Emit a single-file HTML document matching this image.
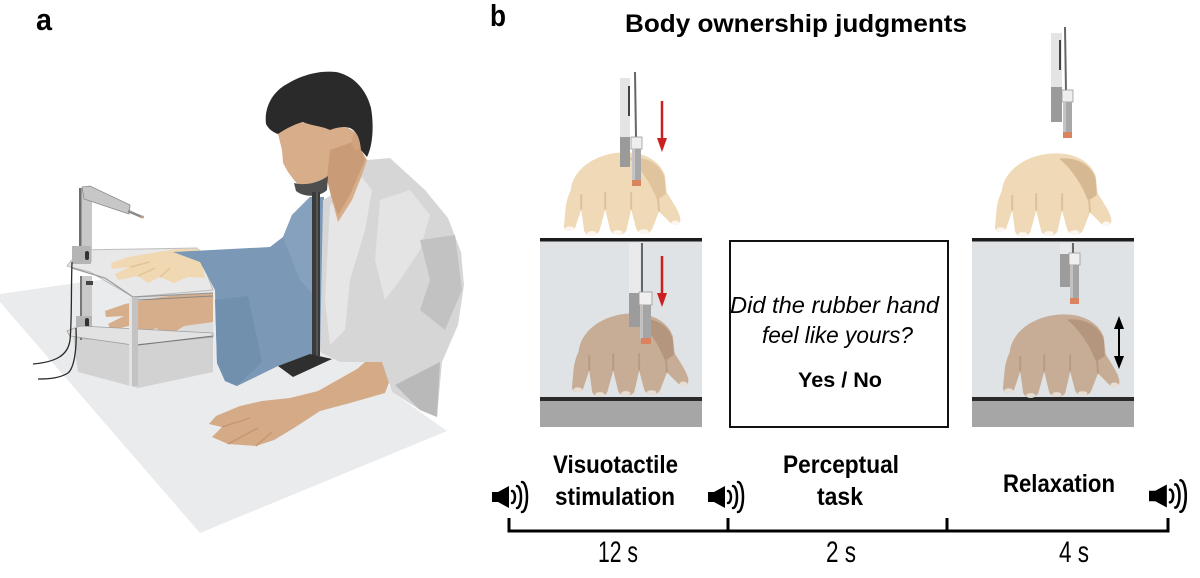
<!DOCTYPE html>
<html><head><meta charset="utf-8">
<style>
html,body{margin:0;padding:0;background:#fff;}
svg{display:block;}
text{font-family:"Liberation Sans",Arial,sans-serif;fill:#000;}
</style></head><body>
<svg width="1200" height="578" viewBox="0 0 1200 578" xmlns="http://www.w3.org/2000/svg">
<rect width="1200" height="578" fill="#fff"/>

<!-- ================= PANEL A ================= -->
<text x="36" y="30" font-size="31" font-weight="bold" textLength="16" lengthAdjust="spacingAndGlyphs">a</text>

<!-- table -->
<polygon points="0,294 90,281 330,262 392,392 447,431 200,533 0,302" fill="#e9ebec"/>

<!-- apparatus lower box side / underside -->
<polygon points="72,330 213,333 213,372 138,388 78,372" fill="#d2d2d2"/>
<polygon points="138,297 213,294 213,336 138,345" fill="#dcdcdc"/>

<!-- lower real hand (under glass) -->
<path d="M213,293 L180,294 L150,299 L125,304 L105,311 L106,317 L124,316 L108,324 L111,330 L134,325 L143,334 L156,328 L168,336 L184,326 L213,322 Z" fill="#d6ae8b"/>

<!-- upper shelf -->
<polygon points="67,266 80,250 197,248 213,290 133,297 90,272" fill="#e8e8e8" stroke="#bdbdbd" stroke-width="1"/>
<polyline points="72,268 105,278 133,297 213,293" fill="none" stroke="#9a9a9a" stroke-width="1.2"/>

<!-- upper rubber hand -->
<path d="M200,249 L176,249 L152,253 L128,257 L111,263 L112,269 L130,267 L115,274 L118,280 L138,276 L148,283 L160,277 L174,283 L188,277 L205,278 Z" fill="#f0d9b2"/>
<path d="M130,267 L150,262 M138,276 L155,268 M160,277 L170,268" stroke="#e2c49a" stroke-width="1.5" fill="none"/>

<!-- upper post & arm -->
<rect x="79" y="188" width="13" height="74" fill="#c9c9c9"/>
<rect x="79" y="188" width="2.5" height="74" fill="#6e6e6e"/>
<rect x="85" y="192" width="7" height="4" fill="#444"/>
<polygon points="82,187 90,186 130,205 129,214 84,199" fill="#c7c7c7" stroke="#8a8a8a" stroke-width="0.8"/>
<line x1="128" y1="211" x2="142" y2="217" stroke="#8a8a8a" stroke-width="2.5"/>
<circle cx="142.5" cy="217" r="1.5" fill="#c9a080"/>
<rect x="72" y="246" width="19" height="18" fill="#b5b5b5"/>
<rect x="85" y="251" width="4" height="9" rx="2" fill="#333"/>

<!-- lower post -->
<rect x="80" y="276" width="12" height="64" fill="#c9c9c9"/>
<rect x="80" y="276" width="2" height="64" fill="#777"/>
<rect x="86" y="281" width="7" height="4" fill="#444"/>
<rect x="76" y="316" width="16" height="15" fill="#b5b5b5"/>
<rect x="85" y="318" width="4" height="10" rx="2" fill="#333"/>

<!-- lower shelf -->
<polygon points="67,331 80,326 213,333 213,337 133,345 70,336" fill="#e2e2e2" stroke="#a0a0a0" stroke-width="0.8"/>
<!-- front post -->
<rect x="129" y="297" width="9" height="89" fill="#c3c3c3"/>
<rect x="129" y="297" width="3" height="89" fill="#e3e3e3"/>
<line x1="138" y1="345" x2="213" y2="336" stroke="#777" stroke-width="1"/>
<line x1="138" y1="300" x2="213" y2="296" stroke="#888" stroke-width="1"/>

<!-- cables -->
<path d="M72,262 C71,290 72,320 70,340 C68,356 55,362 33,364" stroke="#2a2a2a" stroke-width="1.3" fill="none"/>
<path d="M76,328 C77,350 74,368 68,373 C60,378 50,379 38,379" stroke="#2a2a2a" stroke-width="1.3" fill="none"/>

<!-- arm on table -->
<path d="M372,356 L357,369 L318,391 L290,398 L262,401 L240,406 L216,416 L209,424 L222,427 L212,437 L228,444 L256,446 L274,440 L294,428 L320,411 L350,403 L385,393 L393,372 L386,356 Z" fill="#d5aa86"/>
<path d="M222,427 L250,418 M228,444 L258,428 M256,446 L272,432" stroke="#c4966f" stroke-width="1.3" fill="none"/>

<!-- blue cape -->
<polygon points="173,252 270,247 283,237 292,215 310,197 324,197 326,350 300,358 278,366 237,386 225,381 217,363 215,290 200,262" fill="#7b98b6"/>
<polygon points="215,300 248,296 262,362 237,386 225,381 217,363" fill="#7190ae"/>
<polygon points="283,237 292,215 310,197 318,200 318,300 300,280" fill="#86a1bd"/>

<!-- shirt -->
<polygon points="323,200 340,190 367,160 390,158 425,190 448,218 461,252 464,285 458,325 442,362 437,417 420,410 392,392 382,362 340,362 320,352" fill="#d6d6d6"/>
<polygon points="330,205 345,195 360,175 372,190 365,230 350,280 345,330 330,345 325,300" fill="#e6e6e6"/>
<polygon points="380,200 410,190 430,215 420,250 400,280 385,300 375,260" fill="#e4e4e4"/>
<polygon points="420,240 455,235 462,290 445,330 420,310 430,280" fill="#c2c2c2"/>
<polygon points="395,385 440,362 437,417 420,410" fill="#b9b9b9"/>

<!-- face & neck -->
<polygon points="277,130 282,150 283,163 288,172 294,180 300,187 313,190 327,180 331,196 338,222 352,200 362,175 367,160 360,148 357,133 348,128 330,125 305,122 285,126" fill="#d8ae8a"/>
<polygon points="330,150 358,140 365,160 350,195 338,215 331,195 327,178" fill="#c99c77"/>
<ellipse cx="357" cy="141" rx="5" ry="9" fill="#d0a27e"/>

<!-- hair -->
<path d="M266,124 C264,108 272,92 287,84 C300,76 318,70 336,72 C352,75 366,88 371,108 C374,125 373,145 367,157 L361,150 C360,140 358,132 350,128 C342,126 336,128 330,130 C322,126 312,126 303,122 C295,124 287,128 278,134 C272,132 268,128 266,124 Z" fill="#2a2a2a"/>

<!-- chin rest -->
<path d="M294,183 C305,186 318,183 328,176 L327,190 C320,197 305,198 296,191 Z" fill="#4e4e4e"/>
<rect x="312" y="192" width="8" height="164" fill="#3a3a3a"/>
<rect x="316" y="192" width="2" height="164" fill="#555"/>
<polygon points="278,366 310,354 332,359 293,377" fill="#2f2f2f"/>

<!-- ================= PANEL B ================= -->
<text x="490" y="26" font-size="31" font-weight="bold" textLength="16" lengthAdjust="spacingAndGlyphs">b</text>
<text x="625" y="32" font-size="25" font-weight="bold" textLength="342" lengthAdjust="spacingAndGlyphs">Body ownership judgments</text>

<!-- left column box -->
<rect x="540" y="241" width="162" height="157" fill="#dfe3e6"/>
<rect x="540" y="238" width="162" height="3.5" fill="#1c1c1c"/>
<rect x="540" y="397" width="162" height="4" fill="#2a2a2a"/>
<rect x="540" y="401" width="162" height="26" fill="#a6a6a6"/>

<!-- right column box -->
<rect x="972" y="241" width="162" height="157" fill="#dfe3e6"/>
<rect x="972" y="238" width="162" height="3.5" fill="#1c1c1c"/>
<rect x="972" y="397" width="162" height="4" fill="#2a2a2a"/>
<rect x="972" y="401" width="162" height="26" fill="#a6a6a6"/>

<!-- center box -->
<rect x="730" y="241" width="218" height="186" fill="none" stroke="#111" stroke-width="2"/>
<text x="834.5" y="313" font-size="23.5" font-style="italic" text-anchor="middle" textLength="209" lengthAdjust="spacingAndGlyphs">Did the rubber hand</text>
<text x="837.5" y="343" font-size="23.5" font-style="italic" text-anchor="middle" textLength="151" lengthAdjust="spacingAndGlyphs">feel like yours?</text>
<text x="840" y="387" font-size="21.5" font-weight="bold" text-anchor="middle" textLength="84" lengthAdjust="spacingAndGlyphs">Yes / No</text>

<!-- hands: top-left (rubber) -->
<g transform="translate(563,150) scale(0.96)">
 <path d="M8,42 C10,22 30,6 56,3 C80,0 100,9 106,26 L108,44 C114,54 120,62 122,70 C124,78 116,80 111,75 L100,64 L93,82 C90,89 78,89 76,81 L71,62 L66,84 C63,90 51,90 49,83 L44,62 L38,84 C35,91 24,91 22,84 L19,62 L13,80 C11,86 1,86 1,79 L3,58 C4,52 6,46 8,42 Z" fill="#efd9b6"/>
 <path d="M68,8 C88,6 103,16 106,30 L107,46 L98,52 C92,36 82,20 68,8 Z" fill="#e0c49e"/>
 <path d="M19,46 L19,62 M44,44 L44,62 M71,44 L71,62 M99,50 L100,64" stroke="#dcc099" stroke-width="2" fill="none"/>
 <ellipse cx="7" cy="82" rx="4.5" ry="2.5" fill="#fbf6ef"/>
 <ellipse cx="30" cy="87" rx="5" ry="2.5" fill="#fbf6ef"/>
 <ellipse cx="57" cy="86" rx="5" ry="2.5" fill="#fbf6ef"/>
 <ellipse cx="84" cy="85" rx="5" ry="2.5" fill="#fbf6ef"/>
 <ellipse cx="117" cy="76" rx="4" ry="2.5" fill="#fbf6ef"/>
</g>
<!-- top-left probe -->
<rect x="620" y="78" width="10" height="59" fill="#e4e4e4"/>
<rect x="620" y="137" width="10" height="30" fill="#9a9a9a"/>
<rect x="628" y="86" width="2" height="30" fill="#444"/>
<line x1="635" y1="72" x2="636" y2="137" stroke="#666" stroke-width="2"/>
<rect x="631" y="137" width="11" height="12" fill="#eeeeee" stroke="#999" stroke-width="0.8"/>
<rect x="632" y="149" width="9" height="32" fill="#a8a8a8"/>
<rect x="632" y="149" width="3" height="32" fill="#c4c4c4"/>
<rect x="632" y="180" width="9" height="6" fill="#d9845e"/>
<line x1="662" y1="101" x2="662" y2="140" stroke="#cc2020" stroke-width="2.5"/>
<polygon points="657,138 667,138 662,152" fill="#cc2020"/>

<!-- lower-left (real) hand -->
<g transform="translate(571,311) scale(0.96)">
 <path d="M8,42 C10,22 30,6 56,3 C80,0 100,9 106,26 L108,44 C114,54 120,62 122,70 C124,78 116,80 111,75 L100,64 L93,82 C90,89 78,89 76,81 L71,62 L66,84 C63,90 51,90 49,83 L44,62 L38,84 C35,91 24,91 22,84 L19,62 L13,80 C11,86 1,86 1,79 L3,58 C4,52 6,46 8,42 Z" fill="#c8ad96"/>
 <path d="M68,8 C88,6 103,16 106,30 L107,46 L98,52 C92,36 82,20 68,8 Z" fill="#b3967d"/>
 <path d="M19,46 L19,62 M44,44 L44,62 M71,44 L71,62 M99,50 L100,64" stroke="#b69a82" stroke-width="2" fill="none"/>
 <ellipse cx="7" cy="82" rx="4.5" ry="2.5" fill="#e6ddd3"/>
 <ellipse cx="30" cy="87" rx="5" ry="2.5" fill="#e6ddd3"/>
 <ellipse cx="57" cy="86" rx="5" ry="2.5" fill="#e6ddd3"/>
 <ellipse cx="84" cy="85" rx="5" ry="2.5" fill="#e6ddd3"/>
 <ellipse cx="117" cy="76" rx="4" ry="2.5" fill="#e6ddd3"/>
</g>
<!-- lower-left probe -->
<rect x="629" y="243" width="11" height="50" fill="#eaeaea"/>
<rect x="629" y="293" width="11" height="34" fill="#9c9c9c"/>
<line x1="642" y1="243" x2="642" y2="293" stroke="#666" stroke-width="2"/>
<rect x="639" y="292" width="13" height="13" fill="#efefef" stroke="#999" stroke-width="0.8"/>
<rect x="640" y="305" width="11" height="34" fill="#a5a5a5"/>
<rect x="640" y="305" width="3" height="34" fill="#c2c2c2"/>
<rect x="641" y="338" width="10" height="6" fill="#d9845e"/>
<line x1="662" y1="256" x2="662" y2="295" stroke="#cc2020" stroke-width="2.5"/>
<polygon points="657,293 667,293 662,307" fill="#cc2020"/>

<!-- top-right (rubber) hand -->
<g transform="translate(994,151) scale(0.96)">
 <path d="M8,42 C10,22 30,6 56,3 C80,0 100,9 106,26 L108,44 C114,54 120,62 122,70 C124,78 116,80 111,75 L100,64 L93,82 C90,89 78,89 76,81 L71,62 L66,84 C63,90 51,90 49,83 L44,62 L38,84 C35,91 24,91 22,84 L19,62 L13,80 C11,86 1,86 1,79 L3,58 C4,52 6,46 8,42 Z" fill="#efd9b6"/>
 <path d="M68,8 C88,6 103,16 106,30 L107,46 L98,52 C92,36 82,20 68,8 Z" fill="#d6b993"/>
 <path d="M19,46 L19,62 M44,44 L44,62 M71,44 L71,62 M99,50 L100,64" stroke="#dcc099" stroke-width="2" fill="none"/>
 <ellipse cx="7" cy="82" rx="4.5" ry="2.5" fill="#fbf6ef"/>
 <ellipse cx="30" cy="87" rx="5" ry="2.5" fill="#fbf6ef"/>
 <ellipse cx="57" cy="86" rx="5" ry="2.5" fill="#fbf6ef"/>
 <ellipse cx="84" cy="85" rx="5" ry="2.5" fill="#fbf6ef"/>
 <ellipse cx="117" cy="76" rx="4" ry="2.5" fill="#fbf6ef"/>
</g>
<!-- top-right probe -->
<rect x="1051" y="33" width="11" height="54" fill="#e4e4e4"/>
<rect x="1051" y="87" width="11" height="35" fill="#9a9a9a"/>
<rect x="1059" y="40" width="2" height="30" fill="#444"/>
<line x1="1065" y1="27" x2="1066" y2="92" stroke="#666" stroke-width="2"/>
<rect x="1062" y="90" width="11" height="12" fill="#eeeeee" stroke="#999" stroke-width="0.8"/>
<rect x="1063" y="102" width="9" height="32" fill="#a8a8a8"/>
<rect x="1063" y="102" width="3" height="32" fill="#c4c4c4"/>
<rect x="1063" y="132" width="9" height="6" fill="#d9845e"/>

<!-- lower-right (real) hand -->
<g transform="translate(1002,312) scale(0.96)">
 <path d="M8,42 C10,22 30,6 56,3 C80,0 100,9 106,26 L108,44 C114,54 120,62 122,70 C124,78 116,80 111,75 L100,64 L93,82 C90,89 78,89 76,81 L71,62 L66,84 C63,90 51,90 49,83 L44,62 L38,84 C35,91 24,91 22,84 L19,62 L13,80 C11,86 1,86 1,79 L3,58 C4,52 6,46 8,42 Z" fill="#c8ad96"/>
 <path d="M68,8 C88,6 103,16 106,30 L107,46 L98,52 C92,36 82,20 68,8 Z" fill="#b3967d"/>
 <path d="M19,46 L19,62 M44,44 L44,62 M71,44 L71,62 M99,50 L100,64" stroke="#b69a82" stroke-width="2" fill="none"/>
 <ellipse cx="7" cy="82" rx="4.5" ry="2.5" fill="#e6ddd3"/>
 <ellipse cx="30" cy="87" rx="5" ry="2.5" fill="#e6ddd3"/>
 <ellipse cx="57" cy="86" rx="5" ry="2.5" fill="#e6ddd3"/>
 <ellipse cx="84" cy="85" rx="5" ry="2.5" fill="#e6ddd3"/>
 <ellipse cx="117" cy="76" rx="4" ry="2.5" fill="#e6ddd3"/>
</g>
<!-- lower-right probe -->
<rect x="1060" y="243" width="10" height="11" fill="#eaeaea"/>
<rect x="1060" y="254" width="10" height="33" fill="#9c9c9c"/>
<line x1="1073" y1="243" x2="1073" y2="254" stroke="#666" stroke-width="2"/>
<rect x="1069" y="253" width="11" height="12" fill="#efefef" stroke="#999" stroke-width="0.8"/>
<rect x="1070" y="265" width="9" height="35" fill="#a5a5a5"/>
<rect x="1070" y="265" width="3" height="35" fill="#c2c2c2"/>
<rect x="1070" y="298" width="9" height="6" fill="#d9845e"/>
<!-- double arrow -->
<line x1="1119" y1="324" x2="1119" y2="361" stroke="#000" stroke-width="2"/>
<polygon points="1114,329 1124,329 1119,316" fill="#000"/>
<polygon points="1114,356 1124,356 1119,369" fill="#000"/>

<!-- ================= TIMELINE ================= -->
<path d="M509,518 L509,531 L1168,531 L1168,518" fill="none" stroke="#000" stroke-width="3" stroke-linejoin="miter"/>
<line x1="728" y1="518" x2="728" y2="531" stroke="#000" stroke-width="3"/>
<line x1="947" y1="518" x2="947" y2="531" stroke="#000" stroke-width="3"/>

<text x="615.5" y="473" font-size="25" font-weight="bold" text-anchor="middle" textLength="125" lengthAdjust="spacingAndGlyphs">Visuotactile</text>
<text x="615" y="505" font-size="25" font-weight="bold" text-anchor="middle" textLength="120" lengthAdjust="spacingAndGlyphs">stimulation</text>
<text x="841" y="473" font-size="25" font-weight="bold" text-anchor="middle" textLength="116" lengthAdjust="spacingAndGlyphs">Perceptual</text>
<text x="840" y="505" font-size="25" font-weight="bold" text-anchor="middle" textLength="46" lengthAdjust="spacingAndGlyphs">task</text>
<text x="1059" y="492" font-size="25" font-weight="bold" text-anchor="middle" textLength="112" lengthAdjust="spacingAndGlyphs">Relaxation</text>

<text x="618" y="562" font-size="30" text-anchor="middle" textLength="40" lengthAdjust="spacingAndGlyphs">12 s</text>
<text x="841" y="562" font-size="30" text-anchor="middle" textLength="30" lengthAdjust="spacingAndGlyphs">2 s</text>
<text x="1074" y="562" font-size="30" text-anchor="middle" textLength="30" lengthAdjust="spacingAndGlyphs">4 s</text>

<!-- speakers -->
<g transform="translate(492,497)">
 <rect x="0" y="-5" width="7" height="10" fill="#000"/>
 <polygon points="6,-5 17,-11 17,11 6,5" fill="#000"/>
 <path d="M20,-6 A3,6 0 0 1 20,6 M25,-11 A4,11 0 0 1 25,11 M30,-15 A5,15 0 0 1 30,15" fill="none" stroke="#000" stroke-width="2.5" stroke-linecap="round"/>
</g>
<g transform="translate(708,497)">
 <rect x="0" y="-5" width="7" height="10" fill="#000"/>
 <polygon points="6,-5 17,-11 17,11 6,5" fill="#000"/>
 <path d="M20,-6 A3,6 0 0 1 20,6 M25,-11 A4,11 0 0 1 25,11 M30,-15 A5,15 0 0 1 30,15" fill="none" stroke="#000" stroke-width="2.5" stroke-linecap="round"/>
</g>
<g transform="translate(1149,496) scale(1.05)">
 <rect x="0" y="-5" width="7" height="10" fill="#000"/>
 <polygon points="6,-5 17,-11 17,11 6,5" fill="#000"/>
 <path d="M20,-6 A3,6 0 0 1 20,6 M25,-11 A4,11 0 0 1 25,11 M30,-15 A5,15 0 0 1 30,15" fill="none" stroke="#000" stroke-width="2.5" stroke-linecap="round"/>
</g>
</svg>
</body></html>
